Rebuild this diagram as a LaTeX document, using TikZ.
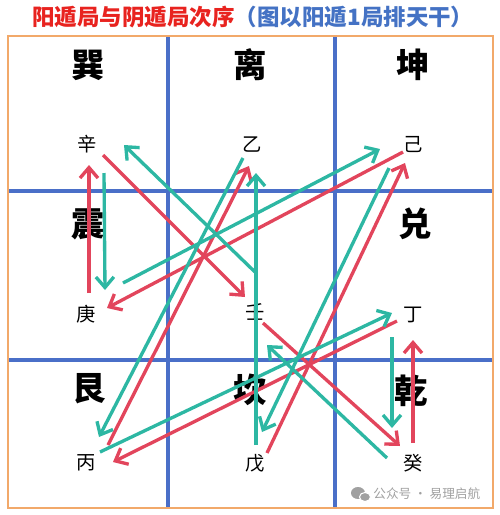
\documentclass[tikz,border=0pt]{standalone}
\usepackage{fontspec}
\newfontfamily\cjk{Noto Sans CJK SC}
\usetikzlibrary{arrows.meta}

\definecolor{yangred}{HTML}{E2455C}
\definecolor{yinteal}{HTML}{2DB7A3}
\definecolor{gridblue}{HTML}{4A6FC8}
\definecolor{frameorange}{HTML}{F2A96A}
\definecolor{titlered}{HTML}{E8231F}
\definecolor{titleblue}{HTML}{4472C4}
\definecolor{markgray}{HTML}{A0A0A0}

\tikzset{
  gua/.style={font=\cjk\bfseries\fontsize{19}{19}\selectfont, inner sep=0pt},
  gan/.style={font=\cjk\fontsize{11}{11}\selectfont, inner sep=0pt},
  yang/.style={draw=yangred, line width=1.9pt, -{Straight Barb[length=2.1mm,width=3.6mm]}},
  yin/.style={draw=yinteal, line width=1.9pt, -{Straight Barb[length=2.1mm,width=3.6mm]}},
}

\begin{document}
\begin{tikzpicture}[x=0.02cm, y=-0.02cm]
    \useasboundingbox (0,0) rectangle (500,515);

    \node[font=\cjk\bfseries\fontsize{12.8}{13}\selectfont, inner sep=0pt] (title) at (253,17)
        {\textcolor{titlered}{阳遁局与阴遁局次序}\textcolor{titleblue}{（图以阳遁1局排天干）}};

    \draw[gridblue, line width=1.8pt] (168,36) -- (168,508);
    \draw[gridblue, line width=1.8pt] (335,36) -- (335,508);
    \draw[gridblue, line width=1.8pt] (8,191) -- (493,191);
    \draw[gridblue, line width=1.8pt] (8,360) -- (493,360);
    \draw[frameorange, line width=1.1pt] (8,36) rectangle (493,508);

    \node[gua] (xun) at (88,65) {巽};
    \node[gua] (li) at (250,65) {离};
    \node[gua] (kun) at (413,65) {坤};
    \node[gua] (zhen) at (88,224) {震};
    \node[gua] (dui) at (415,224) {兑};
    \node[gua] (gen) at (89,389) {艮};
    \node[gua] (kan) at (250,390) {坎};
    \node[gua] (qian) at (411,391) {乾};

    \node[gan] (xin) at (87,144) {辛};
    \node[gan] (yi) at (252,145) {乙};
    \node[gan] (ji) at (413,145) {己};
    \node[gan] (geng) at (86,314) {庚};
    \node[gan] (ren) at (255,312) {壬};
    \node[gan] (ding) at (413,315) {丁};
    \node[gan] (bing) at (86,463) {丙};
    \node[gan] (wu) at (255,463) {戊};
    \node[gan] (gui) at (413,463) {癸};

    \draw[yang] ([shift={(12,-10)}]wu.center) -- ([shift={(-8,18)}]ji.center);
    \draw[yang] ([shift={(-10,7)}]ji.center) -- ([shift={(21,-6)}]geng.center);
    \draw[yang] ([shift={(3,-21)}]geng.center) -- ([shift={(2,21)}]xin.center);
    \draw[yang] ([shift={(16,11)}]xin.center) -- ([shift={(-10,-15)}]ren.center);
    \draw[yang] ([shift={(8,11)}]ren.center) -- ([shift={(-13,-17)}]gui.center);
    \draw[yang] ([shift={(0,-20)}]gui.center) -- ([shift={(0,25)}]ding.center);
    \draw[yang] ([shift={(-16,6)}]ding.center) -- ([shift={(27,-1)}]bing.center);
    \draw[yang] ([shift={(22,-18)}]bing.center) -- ([shift={(-3,21)}]yi.center);

    \draw[yin] ([shift={(-9,13)}]yi.center) -- ([shift={(13,-26)}]bing.center);
    \draw[yin] ([shift={(14,-11)}]bing.center) -- ([shift={(-21,-2)}]ding.center);
    \draw[yin] ([shift={(-21,22)}]ding.center) -- ([shift={(-21,-35)}]gui.center);
    \draw[yin] ([shift={(-26,-5)}]gui.center) -- ([shift={(12,33)}]ren.center);
    \draw[yin] ([shift={(0,-40)}]ren.center) -- ([shift={(37,1)}]xin.center);
    \draw[yin] ([shift={(17,29)}]xin.center) -- ([shift={(19,-24)}]geng.center);
    \draw[yin] ([shift={(37,-31)}]geng.center) -- ([shift={(-33,4)}]ji.center);
    \draw[yin] ([shift={(-24,23)}]ji.center) -- ([shift={(7,-31)}]wu.center);
    \draw[yin] ([shift={(1,-18)}]wu.center) -- ([shift={(4,28)}]yi.center);

    \fill[markgray] (358,493) ellipse (7 and 6);
    \draw[white, fill=markgray, line width=0.6pt] (365,497) ellipse (5.5 and 4.5);
    \node[font=\cjk\fontsize{7.2}{8}\selectfont, text=markgray, anchor=west, inner sep=0pt] (mark) at (373,494) {公众号 · 易理启航};
\end{tikzpicture}
\end{document}
